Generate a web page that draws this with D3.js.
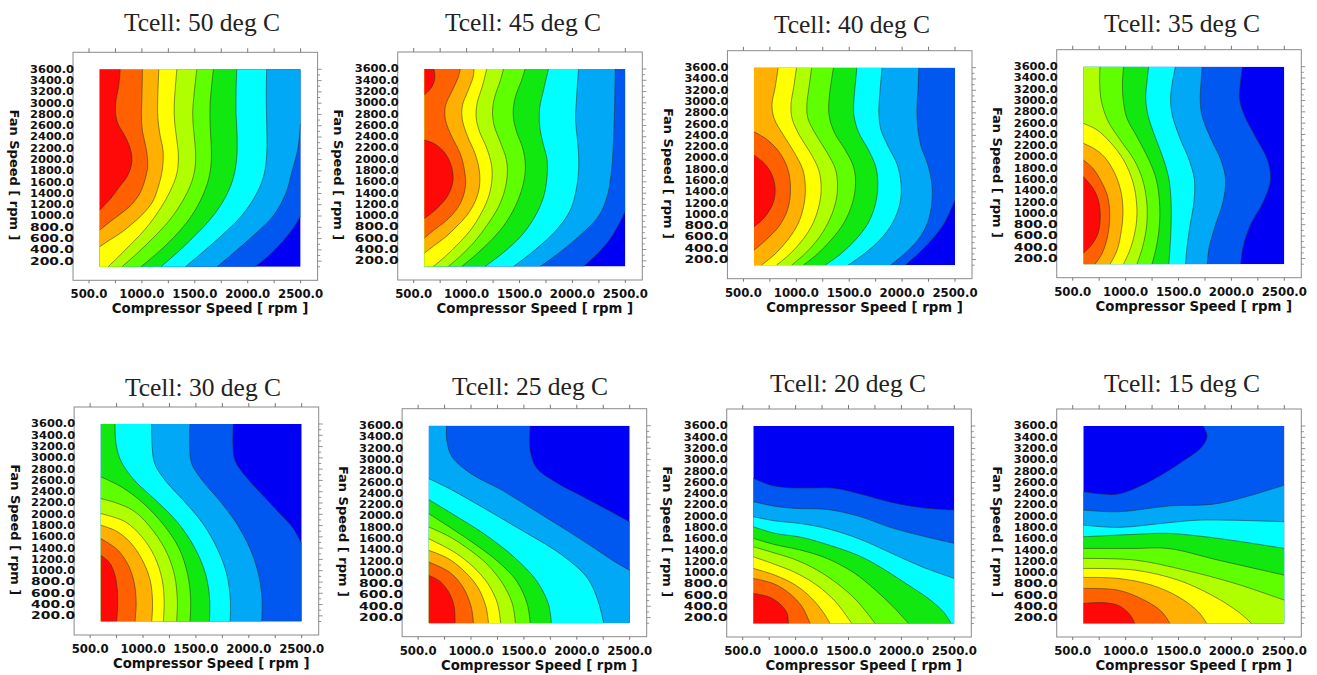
<!DOCTYPE html>
<html><head><meta charset="utf-8">
<script src="https://cdn.jsdelivr.net/npm/d3@7"></script>
<style>
body{margin:0;background:#fff;}
svg{display:block;}
</style></head><body>
<svg id="chart" width="1317" height="675"></svg>
<script>
// ---------------- DATA ----------------
const temps = [50, 45, 40, 35, 30, 25, 20, 15];
const xTicks = [500, 1000, 1500, 2000, 2500];
const yTicks = [200,400,600,800,1000,1200,1400,1600,1800,2000,2200,2400,2600,2800,3000,3200,3400,3600];
const xDomain = [600, 2500];
const yDomain = [100, 3600];
// 11 colour bands (level 0 = coldest ... level 10 = hottest)
const bandColors = ['#0000f5','#0058f0','#00a8f5','#00ffff','#10e810','#60ff00','#b0ff00','#ffff00','#ffb000','#ff6000','#ff0808'];

// contour boundaries: [level, points [compressor rpm, fan rpm]], hotter side on the left of travel
const c50 = [
 [10, [[600,1100],[650,1200],[700,1300],[780,1500],[860,1700],[900,1900],[905,2050],[880,2250],[830,2450],[770,2650],[750,2850],[755,3050],[780,3300],[795,3600]]],
 [9, [[600,750],[700,900],[800,1040],[900,1200],[980,1400],[1030,1650],[1055,1900],[1040,2200],[1005,2500],[995,2800],[1000,3100],[1005,3600]]],
 [8, [[600,455],[700,580],[800,700],[900,850],[1000,1020],[1100,1250],[1160,1550],[1195,1850],[1200,2150],[1170,2450],[1150,2750],[1150,3100],[1160,3600]]],
 [7, [[680,100],[780,280],[880,470],[980,660],[1080,880],[1180,1150],[1270,1450],[1330,1750],[1345,2050],[1330,2350],[1310,2650],[1305,2950],[1315,3250],[1330,3600]]],
 [6, [[810,100],[950,330],[1100,600],[1250,900],[1380,1250],[1470,1600],[1505,1900],[1505,2200],[1490,2500],[1480,2800],[1490,3100],[1519,3600]]],
 [5, [[990,100],[1150,350],[1300,620],[1450,950],[1560,1300],[1630,1650],[1655,1950],[1655,2250],[1645,2600],[1645,3000],[1676,3600]]],
 [4, [[1180,100],[1350,380],[1500,650],[1650,950],[1780,1300],[1860,1650],[1895,2000],[1900,2400],[1890,2800],[1890,3200],[1896,3600]]],
 [3, [[1410,100],[1600,400],[1780,700],[1940,1000],[2070,1350],[2150,1700],[2180,2100],[2180,2600],[2175,3100],[2179,3600]]],
 [2, [[1710,100],[1900,400],[2080,700],[2240,1000],[2360,1400],[2420,1800],[2475,2200],[2500,2640]]],
 [1, [[2070,100],[2200,300],[2330,550],[2430,780],[2500,1000]]]
];
const c45 = [
 [10, [[600,950],[720,1130],[820,1350],[870,1600],[860,1850],[800,2100],[700,2270],[600,2340]]],
 [10, [[600,3140],[670,3280],[700,3450],[690,3600]]],
 [9, [[600,600],[700,760],[800,900],[900,1100],[960,1300],[990,1550],[980,1800],[940,2100],[860,2400],[800,2700],[800,2950],[860,3200],[920,3450],[940,3600]]],
 [8, [[600,336],[700,480],[800,620],[900,800],[1000,1000],[1080,1250],[1120,1500],[1120,1800],[1080,2100],[1010,2400],[960,2700],[960,2950],[1010,3200],[1060,3450],[1070,3600]]],
 [7, [[685,100],[800,280],[920,500],[1040,750],[1140,1050],[1210,1350],[1240,1650],[1235,1900],[1190,2200],[1120,2500],[1090,2750],[1100,3000],[1150,3300],[1190,3600]]],
 [6, [[827,100],[950,300],[1080,550],[1200,850],[1300,1150],[1360,1450],[1385,1750],[1375,2000],[1320,2300],[1260,2600],[1245,2850],[1265,3100],[1320,3400],[1348,3600]]],
 [5, [[953,100],[1100,330],[1250,600],[1380,900],[1480,1250],[1540,1600],[1555,1900],[1530,2200],[1470,2500],[1440,2800],[1460,3100],[1520,3400],[1553,3600]]],
 [4, [[1174,100],[1350,350],[1520,650],[1650,1000],[1730,1350],[1760,1700],[1760,2000],[1720,2300],[1690,2600],[1690,2900],[1730,3250],[1774,3600]]],
 [3, [[1443,100],[1650,400],[1850,750],[1980,1100],[2040,1500],[2060,1900],[2050,2300],[2030,2700],[2040,3100],[2058,3600]]],
 [2, [[1695,100],[1900,380],[2100,700],[2250,1000],[2330,1350],[2370,1800],[2390,2400],[2400,3000],[2405,3600]]],
 [1, [[2105,100],[2250,350],[2380,650],[2500,1074]]]
];
const c40 = [
 [10, [[600,780],[700,950],[780,1200],[800,1450],[770,1700],[700,1900],[600,2050]]],
 [9, [[600,366],[720,560],[840,800],[920,1100],[945,1450],[920,1800],[840,2100],[720,2330],[600,2465]]],
 [8, [[670,100],[800,300],[920,550],[1020,850],[1075,1200],[1085,1500],[1060,1800],[980,2100],[880,2400],[790,2700],[770,2950],[800,3250],[828,3600]]],
 [7, [[812,100],[940,300],[1060,550],[1160,850],[1220,1200],[1235,1500],[1210,1800],[1130,2100],[1030,2400],[960,2700],[950,2950],[975,3250],[1002,3600]]],
 [6, [[955,100],[1080,300],[1200,550],[1300,850],[1370,1200],[1390,1500],[1370,1800],[1290,2100],[1190,2400],[1110,2700],[1100,2950],[1120,3250],[1145,3600]]],
 [5, [[1065,100],[1200,300],[1330,550],[1450,850],[1530,1200],[1560,1550],[1540,1850],[1460,2150],[1360,2450],[1310,2750],[1310,3050],[1330,3350],[1351,3600]]],
 [4, [[1271,100],[1420,300],[1560,550],[1680,850],[1750,1200],[1770,1550],[1750,1850],[1680,2150],[1590,2450],[1545,2750],[1545,3050],[1560,3350],[1572,3600]]],
 [3, [[1487,100],[1640,300],[1790,550],[1910,850],[1980,1200],[1990,1550],[1950,1900],[1870,2200],[1800,2500],[1780,2800],[1790,3150],[1810,3600]]],
 [2, [[1889,100],[2020,300],[2150,550],[2240,850],[2280,1200],[2280,1550],[2240,1900],[2180,2200],[2150,2500],[2140,2850],[2150,3200],[2158,3600]]],
 [1, [[2031,100],[2150,300],[2280,550],[2400,850],[2500,1253]]]
];
const c35 = [
 [10, [[600,295],[680,450],[740,650],[760,950],[740,1250],[690,1450],[600,1652]]],
 [9, [[711,100],[780,300],[830,600],[850,950],[830,1300],[760,1600],[690,1800],[600,1947]]],
 [8, [[853,100],[920,350],[960,700],[975,1000],[960,1350],[900,1700],[800,2000],[700,2150],[600,2242]]],
 [7, [[980,100],[1050,400],[1100,800],[1105,1150],[1070,1550],[980,1950],[860,2250],[730,2480],[600,2597]]],
 [6, [[1107,100],[1160,400],[1200,800],[1200,1200],[1160,1600],[1080,1950],[950,2300],[830,2650],[770,3000],[755,3300],[758,3600]]],
 [5, [[1249,100],[1290,400],[1320,800],[1320,1200],[1290,1600],[1220,1950],[1110,2350],[1010,2700],[975,3050],[970,3300],[980,3600]]],
 [4, [[1408,100],[1420,400],[1430,800],[1430,1200],[1410,1600],[1360,1950],[1280,2350],[1210,2750],[1190,3050],[1200,3300],[1218,3600]]],
 [3, [[1566,100],[1580,400],[1610,800],[1645,1200],[1650,1600],[1600,1950],[1510,2350],[1440,2750],[1425,3050],[1440,3300],[1471,3600]]],
 [2, [[1772,100],[1790,400],[1850,800],[1920,1200],[1945,1600],[1900,1950],[1800,2350],[1720,2750],[1705,3050],[1712,3300],[1724,3600]]],
 [1, [[2088,100],[2110,400],[2180,800],[2300,1200],[2370,1600],[2340,1950],[2230,2350],[2120,2750],[2075,3050],[2085,3300],[2104,3600]]]
];
const c30 = [
 [10, [[751,100],[760,400],[755,700],[730,950],[680,1150],[600,1273]]],
 [9, [[925,100],[935,450],[915,800],[860,1100],[770,1350],[680,1480],[600,1569]]],
 [8, [[1082,100],[1090,450],[1065,850],[990,1200],[880,1500],[750,1700],[600,1806]]],
 [7, [[1192,100],[1200,450],[1180,850],[1110,1250],[990,1600],[830,1870],[600,2013]]],
 [6, [[1318,100],[1325,450],[1300,900],[1230,1300],[1100,1700],[920,2050],[750,2200],[600,2279]]],
 [5, [[1444,100],[1450,500],[1420,950],[1340,1400],[1200,1800],[1000,2200],[800,2480],[600,2664]]],
 [4, [[1627,100],[1630,500],[1590,950],[1490,1400],[1330,1850],[1120,2250],[920,2600],[790,2950],[745,3250],[735,3600]]],
 [3, [[1823,100],[1825,500],[1790,950],[1700,1400],[1560,1850],[1380,2250],[1210,2600],[1110,2900],[1085,3250],[1082,3600]]],
 [2, [[2122,100],[2125,500],[2090,950],[2010,1400],[1880,1850],[1720,2250],[1560,2600],[1460,2900],[1440,3250],[1444,3600]]],
 [1, [[2500,1480],[2420,1750],[2300,2000],[2150,2300],[1980,2650],[1870,2950],[1850,3250],[1854,3600]]]
];
const c25 = [
 [10, [[849,100],[840,400],[790,650],[700,850],[600,947]]],
 [9, [[1023,100],[1000,400],[920,750],[800,1000],[600,1184]]],
 [8, [[1165,100],[1140,400],[1060,750],[920,1050],[780,1250],[600,1391]]],
 [7, [[1280,100],[1250,450],[1160,800],[1020,1100],[850,1350],[600,1598]]],
 [6, [[1420,100],[1390,450],[1300,800],[1150,1150],[950,1450],[780,1650],[600,1806]]],
 [5, [[1560,100],[1530,450],[1430,850],[1250,1200],[1000,1550],[800,1800],[600,2042]]],
 [4, [[1760,100],[1730,450],[1620,850],[1420,1250],[1150,1650],[900,1950],[600,2291]]],
 [3, [[2254,100],[2200,500],[2100,900],[1850,1320],[1430,1800],[1000,2270],[800,2480],[600,2664]]],
 [2, [[2500,1036],[2350,1200],[2150,1450],[1900,1750],[1600,2100],[1300,2450],[1000,2750],[820,3050],[770,3350],[770,3600]]],
 [1, [[2500,1894],[2300,2100],[2050,2350],[1800,2600],[1620,2850],[1560,3150],[1559,3600]]]
];
const c20 = [
 [10, [[931,100],[920,280],[850,450],[750,570],[600,632]]],
 [9, [[1137,100],[1060,400],[950,620],[800,800],[600,899]]],
 [8, [[1326,100],[1260,300],[1150,550],[1000,780],[800,960],[600,1076]]],
 [7, [[1531,100],[1380,480],[1200,780],[1000,1000],[800,1150],[600,1283]]],
 [6, [[1752,100],[1580,500],[1400,800],[1200,1050],[1000,1230],[800,1350],[600,1461]]],
 [5, [[2068,100],[1920,400],[1750,700],[1550,1000],[1300,1250],[1050,1400],[800,1500],[600,1609]]],
 [4, [[2470,100],[2400,300],[2250,550],[2050,800],[1800,1100],[1600,1300],[1300,1500],[1050,1630],[800,1700],[600,1816]]],
 [3, [[2500,899],[2200,1100],[1900,1350],[1600,1600],[1300,1780],[1050,1870],[800,1920],[600,1993]]],
 [2, [[2500,1520],[2200,1650],[1900,1800],[1600,2000],[1300,2120],[1000,2140],[800,2180],[600,2259]]],
 [1, [[2500,2111],[2200,2150],[1900,2250],[1600,2400],[1350,2500],[1100,2500],[900,2510],[750,2560],[600,2673]]]
];
const c15 = [
 [10, [[1088,100],[1030,280],[930,420],[780,470],[600,455]]],
 [9, [[1419,100],[1340,310],[1180,510],[930,690],[600,721]]],
 [8, [[1766,100],[1687,307],[1498,573],[1246,780],[931,898],[600,916]]],
 [7, [[2191,100],[2065,307],[1813,603],[1498,868],[1088,1046],[600,1075]]],
 [6, [[2500,514],[2034,810],[1561,1046],[1088,1224],[600,1253]]],
 [5, [[2500,957],[1876,1223],[1403,1430],[1088,1430],[600,1430]]],
 [4, [[2500,1430],[1876,1608],[1403,1697],[1088,1680],[600,1637]]],
 [3, [[2500,1903],[1719,1933],[1403,1886],[931,1803],[600,1844]]],
 [2, [[2500,2553],[1876,2228],[1403,2181],[931,2081],[600,2110]]],
 [1, [[1734,3600],[1770,3420],[1720,3230],[1560,3000],[1250,2640],[930,2394],[750,2400],[600,2435]]]
];
const panelContours = [c50, c45, c40, c35, c30, c25, c20, c15];

// ---------------- LAYOUT ----------------
const W = 201, H = 197.5;
const layout = [
 {L: 99.6,  T: 69.3, tx: 202,  ty: 31},
 {L: 424.3, T: 69,   tx: 523,  ty: 31},
 {L: 754,   T: 67.7, tx: 852,  ty: 33},
 {L: 1083.3,T: 66.7, tx: 1182, ty: 32},
 {L: 100.7, T: 424,  tx: 203,  ty: 396},
 {L: 428.7, T: 425.7,tx: 530,  ty: 395},
 {L: 753.3, T: 426,  tx: 848,  ty: 392},
 {L: 1083.3,T: 426,  tx: 1182, ty: 392}
];

const svg = d3.select('#chart');
const corners = [[600,100],[2500,100],[2500,3600],[600,3600]];
function perimT(p) {
  const e = 1e-6;
  if (Math.abs(p[1] - 100) < e) return (p[0] - 600) / 1900;
  if (Math.abs(p[0] - 2500) < e) return 1 + (p[1] - 100) / 3500;
  if (Math.abs(p[1] - 3600) < e) return 2 + (2500 - p[0]) / 1900;
  return 3 + (3600 - p[1]) / 3500;
}
function closure(pts, x, y) {
  const te = perimT(pts[pts.length - 1]);
  let ts = perimT(pts[0]);
  if (ts <= te) ts += 4;
  let s = '';
  for (let c = Math.floor(te) + 1; c < ts; c++) {
    const cp = corners[c % 4];
    s += 'L' + x(cp[0]) + ',' + y(cp[1]);
  }
  return s + 'Z';
}

const tickFont = '"DejaVu Sans", Verdana, sans-serif';

layout.forEach((p, i) => {
  const x = d3.scaleLinear().domain(xDomain).range([p.L, p.L + W]);
  const y = d3.scaleLinear().domain(yDomain).range([p.T + H, p.T]);
  const g = svg.append('g');
  const clipId = 'clip' + i;
  svg.append('clipPath').attr('id', clipId).append('rect')
    .attr('x', p.L).attr('y', p.T).attr('width', W).attr('height', H);
  const plot = g.append('g').attr('clip-path', `url(#${clipId})`);
  plot.append('rect').attr('x', p.L).attr('y', p.T).attr('width', W).attr('height', H)
    .attr('fill', bandColors[0]);
  const line = d3.line().x(d => x(d[0])).y(d => y(d[1])).curve(d3.curveCatmullRom.alpha(0.5));
  const cs = panelContours[i].slice().sort((a, b) => a[0] - b[0]);
  cs.forEach(([lvl, pts]) => {
    plot.append('path').attr('d', line(pts) + closure(pts, x, y)).attr('fill', bandColors[lvl]);
  });
  cs.forEach(([lvl, pts]) => {
    plot.append('path').attr('d', line(pts)).attr('fill', 'none')
      .attr('stroke', '#2a2a2a').attr('stroke-width', 0.7).attr('stroke-opacity', 0.75);
  });

  // frame
  const bl = x(500) - 16, br = x(2500) + 17, bt = y(3600) - 17, bb = y(100) + 13.5;
  g.append('rect').attr('x', bl).attr('y', bt).attr('width', br - bl).attr('height', bb - bt)
    .attr('fill', 'none').attr('stroke', '#8a8a8a').attr('stroke-width', 1);
  const xt = d3.range(500, 2501, 250);
  g.selectAll('.tt').data(xt).enter().append('line')
    .attr('x1', d => x(d)).attr('x2', d => x(d)).attr('y1', bt).attr('y2', bt - 4)
    .attr('stroke', '#777').attr('stroke-width', 1);
  g.selectAll('.tb').data(xt).enter().append('line')
    .attr('x1', d => x(d)).attr('x2', d => x(d)).attr('y1', bb).attr('y2', bb + 3)
    .attr('stroke', '#777').attr('stroke-width', 1);
  const yt = d3.range(100, 3601, 100);
  g.selectAll('.tr').data(yt).enter().append('line')
    .attr('x1', br).attr('x2', d => br + (d % 200 === 0 ? 4 : 2.5)).attr('y1', d => y(d)).attr('y2', d => y(d))
    .attr('stroke', '#777').attr('stroke-width', 0.8);

  // tick labels (tightly packed like the original; font kept small enough not to collide)
  g.selectAll('.yl').data(yTicks).enter().append('text')
    .attr('x', bl + 1).attr('y', d => y(d)).attr('dy', '0.36em')
    .attr('text-anchor', 'end').attr('font-family', tickFont).attr('font-weight', 'bold')
    .attr('font-size', 9.6).attr('textLength', 44).attr('lengthAdjust', 'spacingAndGlyphs')
    .attr('fill', '#111').text(d => d.toFixed(1));
  g.selectAll('.xl').data(xTicks).enter().append('text')
    .attr('x', d => x(d)).attr('y', bb + 18)
    .attr('text-anchor', 'middle').attr('font-family', tickFont).attr('font-weight', 'bold')
    .attr('font-size', 11.7).attr('fill', '#111').text(d => d.toFixed(1));

  // axis titles
  g.append('text').attr('x', p.L + W / 2 + 10).attr('y', bb + 33)
    .attr('text-anchor', 'middle').attr('font-family', tickFont).attr('font-weight', 'bold')
    .attr('font-size', 13.3).attr('fill', '#111').text('Compressor Speed [ rpm ]');
  g.append('text').attr('transform', `translate(${p.L - 90},${p.T + H / 2 + 7}) rotate(90)`)
    .attr('text-anchor', 'middle').attr('font-family', tickFont).attr('font-weight', 'bold')
    .attr('font-size', 13).attr('fill', '#111').text('Fan Speed [ rpm ]');

  // panel title
  g.append('text').attr('x', p.tx).attr('y', p.ty).attr('text-anchor', 'middle')
    .attr('font-family', '"Liberation Serif", "Times New Roman", serif')
    .attr('font-size', 25.5).attr('fill', '#222').text(`Tcell: ${temps[i]} deg C`);
});
</script>
</body></html>
